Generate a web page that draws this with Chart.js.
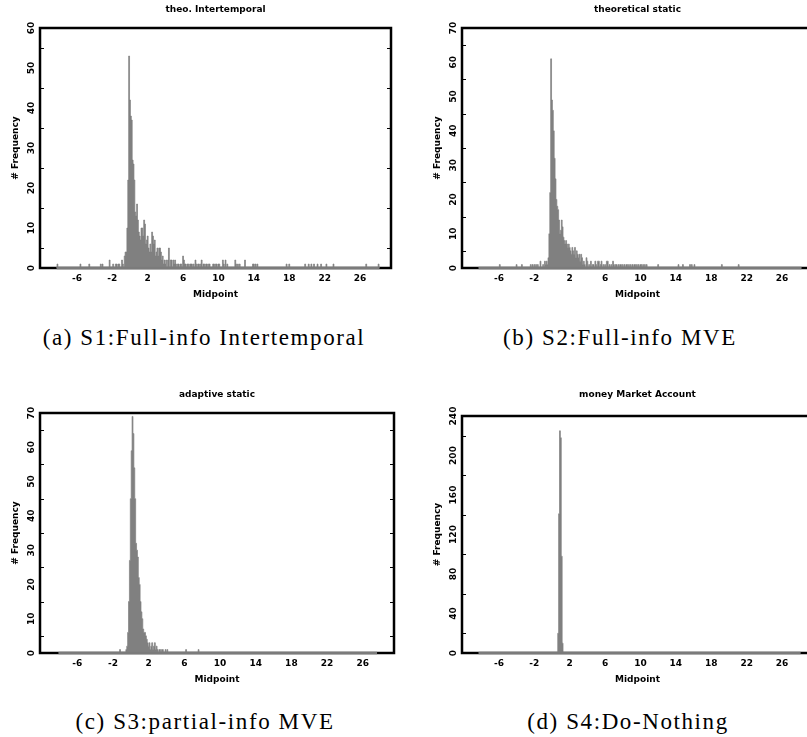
<!DOCTYPE html>
<html>
<head>
<meta charset="utf-8">
<script src="https://cdn.jsdelivr.net/npm/chart.js@4.4.1/dist/chart.umd.min.js"></script>
<style>
  html, body { margin: 0; padding: 0; background: #fff; }
  body { width: 807px; height: 737px; overflow: hidden; position: relative; }
  canvas { position: absolute; }
  .cap {
    position: absolute; width: 400px; text-align: center;
    font-family: "Liberation Serif", serif; font-size: 23px; letter-spacing: 1.6px;
    line-height: 30px; color: #000; white-space: nowrap;
  }
</style>
</head>
<body>
<canvas id="pa" width="400" height="305" style="left:0px;top:0px"></canvas>
<canvas id="pb" width="400" height="305" style="left:422px;top:0px"></canvas>
<canvas id="pc" width="400" height="305" style="left:0px;top:385px"></canvas>
<canvas id="pd" width="400" height="305" style="left:422px;top:385px"></canvas>
<div class="cap" style="left:4px;top:323px">(a) S1:Full-info Intertemporal</div>
<div class="cap" style="left:420px;top:323px">(b) S2:Full-info MVE</div>
<div class="cap" style="left:5px;top:707px">(c) S3:partial-info MVE</div>
<div class="cap" style="left:428px;top:707px">(d) S4:Do-Nothing</div>
<script>
// Histogram bins are 0.1 wide. Each panel: a contiguous block of counts
// starting at coreStart, plus isolated [midpoint, count] bins in the tails.
// Bins not listed are empty.
const BIN = 0.1;
const xTickVals = [-6, -2, 2, 6, 10, 14, 18, 22, 26];
const xMin = -10.17, xMax = 29.5;
const LABEL_FONT = 'bold 9px "DejaVu Sans"';

// theo. Intertemporal
const titleA = 'theo. Intertemporal';
const rangeA = [-8.3, 28.2];
const coreStartA = -0.6;
const coreA = [3, 4, 4, 10, 22, 53, 42, 38, 37, 27, 26, 22, 14, 13, 16, 12, 9, 8, 7, 10,
               10, 8, 12, 11, 6, 7, 8, 5, 4, 6, 4, 9, 8, 6, 7, 3, 4, 5, 3, 5,
               5, 4, 2, 3, 1, 2, 1, 2, 0, 2, 5];
const tailA = [[-8.2,1],[-5.6,1],[-4.6,1],[-3.3,1],[-3.1,1],[-2.3,2],[-1.9,1],[-1.6,1],[-1.5,1],
               [-1.3,1],[-1.2,1],[-0.9,2],[-0.8,1],
               [4.6,2],[4.7,2],[4.9,2],[5.0,1],[5.1,2],[5.2,1],[5.4,1],[5.5,1],[5.7,1],[5.8,1],
               [6.0,3],[6.1,2],[6.2,1],[6.3,1],[6.5,1],[6.6,1],[6.8,1],[6.9,1],
               [7.0,1],[7.2,1],[7.4,2],[7.5,1],[7.7,1],[7.8,1],
               [8.0,1],[8.1,2],[8.3,1],[8.4,1],[8.6,1],[8.7,1],[8.9,1],
               [9.0,1],[9.4,1],[9.5,1],[9.7,1],[9.8,1],
               [10.0,1],[10.1,1],[10.5,2],[10.6,1],[10.8,2],[11.0,1],[11.9,2],
               [12.0,1],[12.2,1],[12.4,1],[13.0,2],[13.9,1],[14.0,1],[14.2,1],[14.4,1],
               [17.7,1],[18.0,1],[19.8,1],[20.2,1],[20.5,1],[20.8,1],
               [21.2,1],[21.6,1],[22.2,1],[23.0,1],[26.7,1],[28.1,1]];
const yTicksA = [0, 10, 20, 30, 40, 50, 60];
const yMinorA = [5, 15, 25, 35, 45, 55];

// theoretical static
const titleB = 'theoretical static';
const rangeB = [-8.3, 28.2];
const coreStartB = -0.7;
const coreB = [1, 2, 1, 3, 10, 22, 61, 49, 46, 40, 32, 26, 20, 18, 17, 14, 10, 11, 14, 12,
               9, 8, 7, 8, 7, 6, 7, 6, 5, 4, 6, 5, 4, 6, 3, 5, 4, 3, 4, 2,
               4, 3, 1, 2];
const tailB = [[-5.9,1],[-4.0,1],[-3.4,1],[-2.4,1],[-2.2,1],[-2.0,1],[-1.8,1],[-1.6,1],
               [-1.3,2],[-1.0,1],[-0.8,2],
               [3.7,1],[3.9,3],[4.0,2],[4.2,1],[4.4,2],[4.6,1],[4.7,1],[4.9,2],[5.0,1],
               [5.2,2],[5.3,2],[5.5,1],[5.6,2],[5.8,1],[6.0,1],[6.2,2],[6.3,2],[6.5,1],
               [6.7,1],[6.9,2],[7.0,1],[7.2,1],[7.3,1],[7.5,1],[7.7,1],[7.8,1],[8.0,1],
               [8.2,1],[8.4,1],[8.5,1],[8.7,1],[8.9,1],[9.1,1],[9.3,1],[9.4,1],[9.6,1],
               [9.8,1],[10.0,1],[10.1,1],[10.3,1],[10.5,1],[10.7,1],[12.0,1],[14.3,1],
               [14.8,1],[15.6,1],[15.8,1],[16.1,1],[19.2,1],[21.1,1]];
const yTicksB = [0, 10, 20, 30, 40, 50, 60, 70];
const yMinorB = [5, 15, 25, 35, 45, 55, 65];

// adaptive static
const titleC = 'adaptive static';
const rangeC = [-8.1, 27.6];
const coreStartC = -0.5;
const coreC = [1, 2, 6, 15, 27, 45, 59, 69, 64, 54, 45, 32, 30, 28, 22, 20, 15, 12, 10, 7,
               6, 6, 5, 4, 3, 2, 3, 1, 2, 3, 1, 2, 3, 1, 2, 1, 0, 1, 1, 0,
               1, 1];
const tailC = [[-1.2,1],[3.9,1],[4.1,1],[6.2,1],[7.6,1]];
const yTicksC = [0, 10, 20, 30, 40, 50, 60, 70];
const yMinorC = [5, 15, 25, 35, 45, 55, 65];

// money Market Account
const titleD = 'money Market Account';
const rangeD = [-8.3, 28.1];
const coreStartD = 0.7;
const coreD = [20, 141, 225, 218, 98, 10];
const tailD = [];
const yTicksD = [0, 40, 80, 120, 160, 200, 240];
const yMinorD = [20, 60, 100, 140, 180, 220];

const panels = [
  { id: 'pa', title: titleA, range: rangeA, coreStart: coreStartA, core: coreA, tail: tailA,
    yTicks: yTicksA, yMinor: yMinorA, padTop: 28, padRight: 9 },
  { id: 'pb', title: titleB, range: rangeB, coreStart: coreStartB, core: coreB, tail: tailB,
    yTicks: yTicksB, yMinor: yMinorB, padTop: 28, padRight: 9 },
  { id: 'pc', title: titleC, range: rangeC, coreStart: coreStartC, core: coreC, tail: tailC,
    yTicks: yTicksC, yMinor: yMinorC, padTop: 28, padRight: 6 },
  { id: 'pd', title: titleD, range: rangeD, coreStart: coreStartD, core: coreD, tail: tailD,
    yTicks: yTicksD, yMinor: yMinorD, padTop: 31, padRight: 9 }
];

const key = v => Math.round(v * 10);

// Every bin across the histogram range, empty ones included, so the
// stepped outline drops back to zero between occupied bins.
function binPoints(p) {
  const counts = new Map();
  p.core.forEach((c, i) => counts.set(key(p.coreStart) + i, c));
  p.tail.forEach(([x, c]) => counts.set(key(x), c));
  const pts = [];
  for (let k = key(p.range[0]); k <= key(p.range[1]); k++) {
    pts.push({ x: k / 10, y: counts.get(k) || 0 });
  }
  return pts;
}

// Frame, inner minor ticks, rotated y labels and the panel heading.
function decor(p) {
  return {
    id: 'decor',
    beforeDatasetsDraw(chart) {
      const { ctx, chartArea: a, scales: { y } } = chart;
      ctx.save();
      ctx.strokeStyle = '#000';
      ctx.lineWidth = 2.5;
      ctx.strokeRect(a.left, a.top, a.right - a.left, a.bottom - a.top);
      ctx.lineWidth = 1;
      ctx.beginPath();
      p.yMinor.forEach(v => {
        const py = Math.round(y.getPixelForValue(v)) + 0.5;
        ctx.moveTo(a.left, py); ctx.lineTo(a.left + 4, py);
        ctx.moveTo(a.right, py); ctx.lineTo(a.right - 4, py);
      });
      ctx.stroke();
      ctx.restore();
    },
    afterDraw(chart) {
      const { ctx, chartArea: a, scales: { y } } = chart;
      ctx.save();
      ctx.fillStyle = '#000';
      ctx.textAlign = 'center';
      ctx.textBaseline = 'middle';
      ctx.font = LABEL_FONT;
      ctx.fillText(p.title, (a.left + a.right) / 2, 10);
      p.yTicks.forEach(v => {
        ctx.save();
        ctx.translate(a.left - 8, y.getPixelForValue(v));
        ctx.rotate(-Math.PI / 2);
        ctx.fillText(String(v), 0, 0);
        ctx.restore();
      });
      ctx.translate(a.left - 24.5, (a.top + a.bottom) / 2);
      ctx.rotate(-Math.PI / 2);
      ctx.fillText('# Frequency', 0, 0);
      ctx.restore();
    }
  };
}

panels.forEach(p => {
  new Chart(document.getElementById(p.id), {
    type: 'line',
    data: {
      datasets: [
        {
          // zero line under the histogram's range
          data: [{ x: p.range[0], y: 0 }, { x: p.range[1], y: 0 }],
          borderColor: '#7b7b7b', borderWidth: 2.5, pointRadius: 0,
          clip: false, order: 0
        },
        {
          data: binPoints(p),
          stepped: 'middle', fill: 'origin',
          backgroundColor: '#808080', borderColor: '#808080', borderWidth: 0.7,
          pointRadius: 0, order: 1
        }
      ]
    },
    options: {
      responsive: false,
      animation: false,
      devicePixelRatio: 1,
      events: [],
      layout: { padding: { left: 40, top: p.padTop, right: p.padRight, bottom: 0 } },
      plugins: { legend: { display: false }, tooltip: { enabled: false } },
      scales: {
        x: {
          type: 'linear', min: xMin, max: xMax, offset: false,
          grid: { display: false, drawTicks: false }, border: { display: false },
          afterBuildTicks: s => { s.ticks = xTickVals.map(v => ({ value: v })); },
          ticks: {
            color: '#000', padding: 5, maxRotation: 0, autoSkip: false,
            font: { family: 'DejaVu Sans', size: 9, weight: 'bold' },
            callback: v => String(v)
          },
          title: {
            display: true, text: 'Midpoint', color: '#000',
            font: { family: 'DejaVu Sans', size: 9, weight: 'bold' },
            padding: { top: 0, bottom: 4.5 }
          },
          afterFit: s => { s.height = 37; }
        },
        y: { display: false, min: 0, max: p.yTicks[p.yTicks.length - 1] }
      }
    },
    plugins: [decor(p)]
  });
});
</script>
</body>
</html>
